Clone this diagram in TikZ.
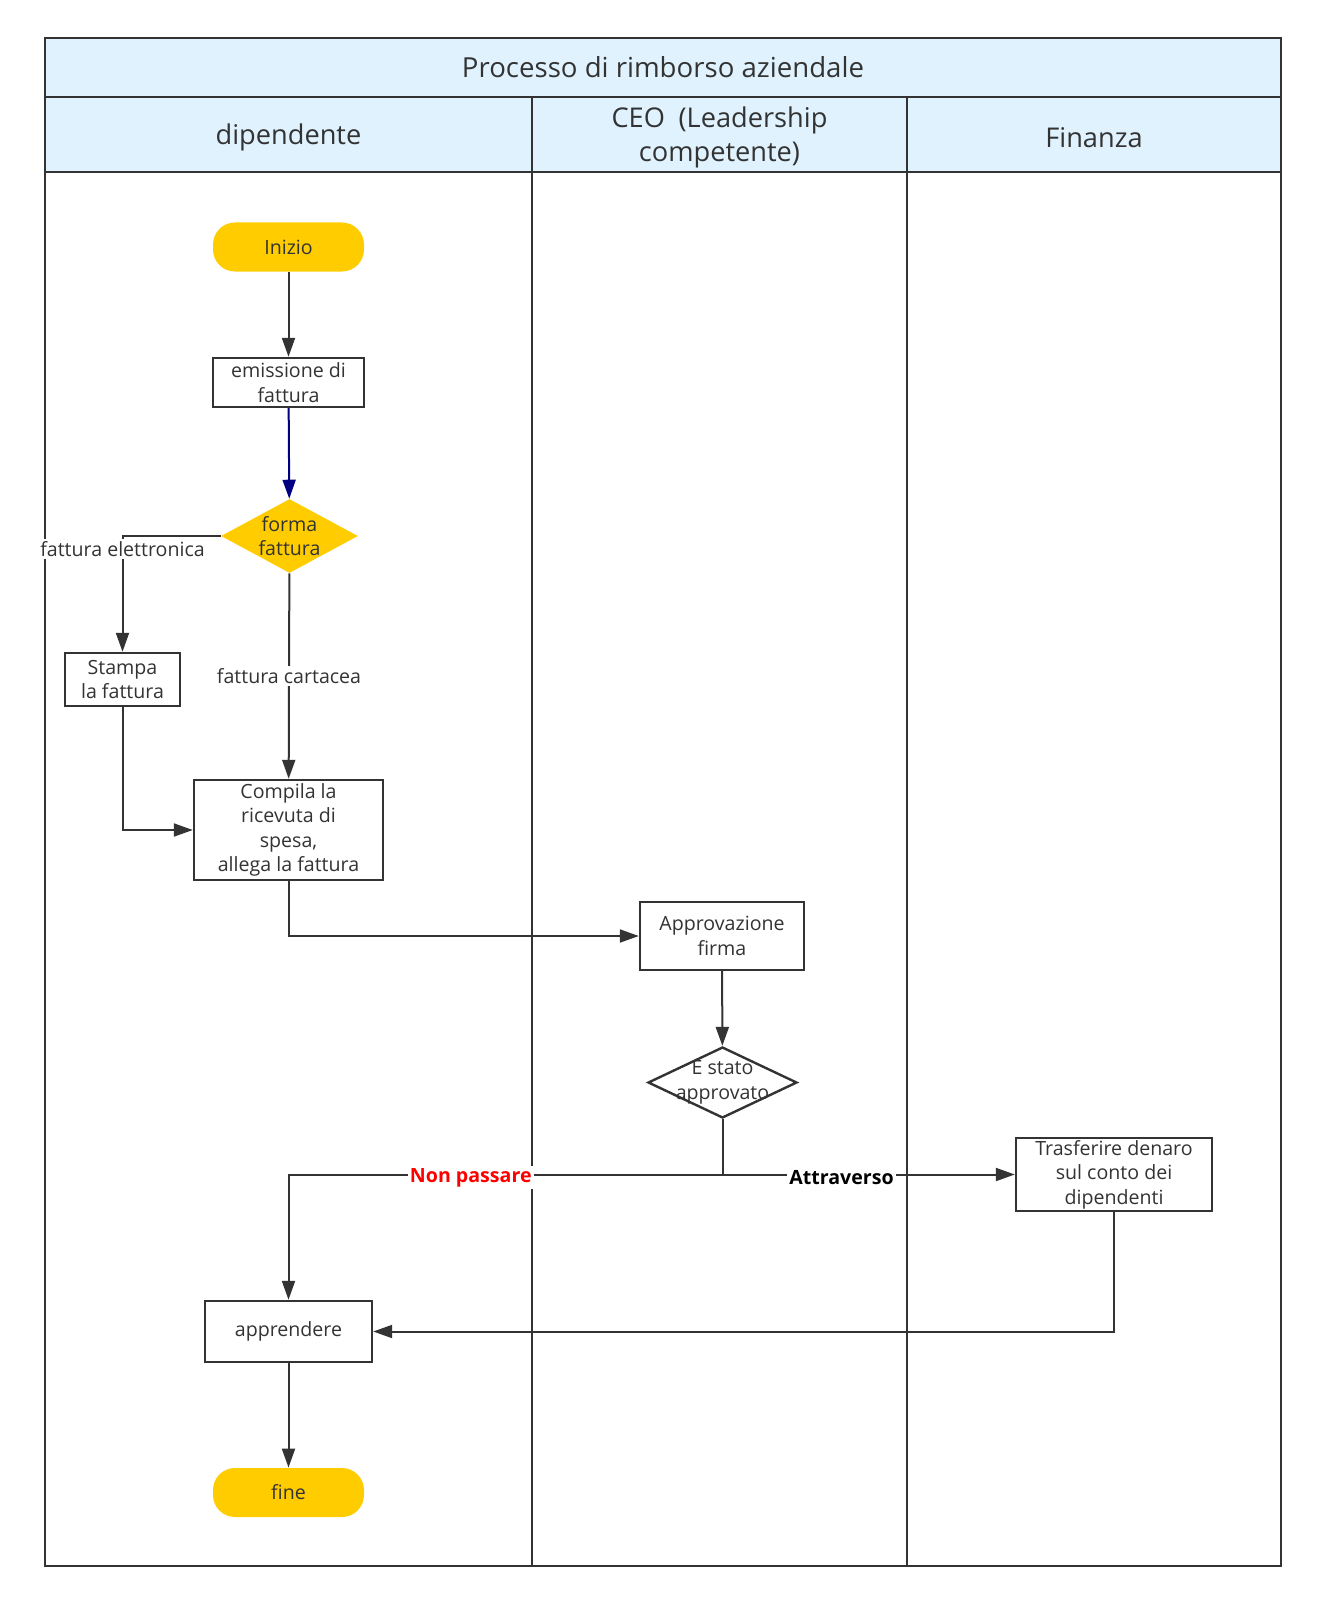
\documentclass[tikz,border=0pt]{standalone}
\usepackage{fontspec}
\setmainfont{Open Sans}
\usetikzlibrary{arrows.meta, shapes.geometric}
\definecolor{lineagrigia}{RGB}{51, 51, 51}
\definecolor{testata}{RGB}{223, 242, 253}
\definecolor{giallo}{RGB}{255, 204, 0}
\definecolor{blunotte}{RGB}{0, 0, 128}
\definecolor{rosso}{RGB}{255, 0, 0}

\begin{document}
\begin{tikzpicture}[x=0.5pt, y=-0.5pt,
		testo/.style={font=\fontsize{9.8}{12.2}\selectfont, text=lineagrigia, align=center},
		terminale/.style={testo, fill=giallo, rounded corners=11pt, minimum width=75.5pt, minimum height=24.5pt, inner sep=0pt},
		processo/.style={testo, draw=lineagrigia, line width=1.2pt, fill=white, inner sep=0pt},
		decisione/.style={diamond, inner sep=0pt},
		flusso/.style={draw=lineagrigia, line width=1pt, -{Triangle[length=9.5pt, width=6.5pt]}},
		etichetta/.style={testo, fill=white, inner sep=1pt},
		corsia/.style={draw=lineagrigia, line width=1.3pt}]
	\useasboundingbox (0,0) rectangle (1319,1605);
	% Intestazione delle corsie
	\fill[testata] (45,38) rectangle (1281,172);
	\draw[corsia] (45,38) rectangle (1281,1566);
	\draw[corsia] (45,97) -- (1281,97);
	\draw[corsia] (45,172) -- (1281,172);
	\foreach \x in {532, 907} {
		\draw[corsia] (\x,97) -- (\x,1566);
	}
	\node[text=lineagrigia, font=\fontsize{13.8}{17}\selectfont] (titolo) at (663,67.5) {Processo di rimborso aziendale};
	\foreach \x/\nome/\testo in {288.5/dip/dipendente, 719.5/ceo/{CEO\enspace(Leadership\\competente)}, 1094/fin/Finanza} {
		\node[text=lineagrigia, font=\fontsize{13.6}{17}\selectfont, align=center] (\nome) at (\x,137.5) {\testo};
	}
	% Nodi del flusso
	\node[terminale] (inizio) at (288.5,247) {Inizio};
	\node[processo, minimum width=75.5pt, minimum height=24.5pt] (emissione) at (288.5,382.5) {emissione di\\fattura};
	\node[decisione, fill=giallo, minimum width=68.5pt, minimum height=37pt,
		label={[testo]center:forma\\fattura}] (forma) at (289.5,536) {};
	\node[processo, minimum width=57.5pt, minimum height=26.5pt] (stampa) at (122.5,679.5) {Stampa\\la fattura};
	\node[processo, minimum width=94.5pt, minimum height=50pt] (compila) at (288.5,830) {Compila la\\ricevuta di\\spesa,\\allega la fattura};
	\node[processo, minimum width=82pt, minimum height=34pt] (approvazione) at (722,936) {Approvazione\\firma};
	\node[decisione, draw=lineagrigia, line width=1.2pt, fill=white, minimum width=74.5pt, minimum height=35.5pt] (stato) at (722.5,1082.5) {};
	\node[processo, minimum width=98pt, minimum height=36.5pt] (trasferire) at (1114,1174.5) {Trasferire denaro\\sul conto dei\\dipendenti};
	\node[processo, minimum width=83.5pt, minimum height=30.5pt] (apprendere) at (288.5,1331.5) {apprendere};
	\node[terminale] (fine) at (288.5,1492.5) {fine};
	\coordinate (bivio) at (722.5,1174.5);
	% Connessioni
	\draw[flusso] (inizio) -- (emissione);
	\draw[flusso, draw=blunotte, fill=blunotte] (emissione) -- (forma);
	\draw[flusso] (forma.west) -| (stampa.north) node[etichetta, pos=0.5, yshift=-6.5pt] {fattura elettronica};
	\draw[flusso] (forma) -- node[etichetta] {fattura cartacea} (compila);
	\draw[flusso] (stampa) |- (compila);
	\draw[flusso] (compila) |- (approvazione);
	\draw[flusso] (approvazione) -- (stato);
	\draw[flusso] (stato) -- (bivio) -| node[etichetta, pos=0.29, yshift=-1.5pt, text=rosso, font=\fontsize{9.8}{12.2}\bfseries] {Non passare} (apprendere);
	\draw[flusso] (bivio) -- node[etichetta, pos=0.407, yshift=-1.5pt, text=black, font=\fontsize{9.8}{12.2}\bfseries] {Attraverso} (trasferire);
	\draw[flusso] (trasferire) |- (apprendere);
	\draw[flusso] (apprendere) -- (fine);
	\node[testo] (statotesto) at (stato) {E stato\\approvato};
\end{tikzpicture}
\end{document}
